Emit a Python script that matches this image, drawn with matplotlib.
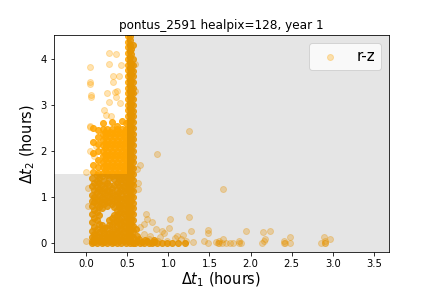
import numpy as np
import matplotlib
matplotlib.use("Agg")
import matplotlib.pyplot as plt
from matplotlib.patches import Rectangle

# ---------------- data ----------------
# dense core: columns of points (x position -> y values)
core_cols = {
    0.490: [0.0, 0.1, 0.22, 0.35, 0.47, 0.6, 0.72, 0.85, 0.97, 1.1, 1.22, 1.35, 1.47,
            1.6, 1.72, 1.85, 1.97, 2.1, 2.22, 2.35, 2.47, 2.6],
    0.510: [0.05, 0.16, 0.28, 0.4, 0.52, 0.64, 0.76, 0.88, 1.0, 1.14, 1.26, 1.38, 1.5,
            1.64, 1.76, 1.88, 2.0, 2.14, 2.26, 2.38, 2.5, 2.64, 2.76, 2.88, 3.0, 3.14,
            3.26, 3.38, 3.5, 3.64, 3.76, 3.88, 4.0, 4.14, 4.26, 4.38, 4.5],
    0.530: [0.0, 0.06, 0.18, 0.3, 0.43, 0.55, 0.68, 0.8, 0.93, 1.05, 1.18, 1.3, 1.43,
            1.55, 1.68, 1.8, 1.93, 2.05, 2.18, 2.3, 2.43, 2.55, 2.68, 2.8, 2.93, 3.05,
            3.18, 3.3, 3.43, 3.55, 3.68, 3.8, 3.93, 4.05, 4.18, 4.3, 4.42, 4.5],
    0.548: [0.03, 0.15, 0.27, 0.4, 0.52, 0.65, 0.78, 0.9, 1.02, 1.15, 1.27, 1.4, 1.52,
            1.65, 1.77, 1.9, 2.02, 2.15, 2.27, 2.4, 2.52, 2.65, 2.77, 2.9, 3.02, 3.15,
            3.27, 3.4, 3.52, 3.65, 3.77, 3.9, 4.1, 4.22],
    0.568: [0.0, 0.12, 0.25, 0.37, 0.5, 0.62, 0.75, 0.87, 1.0, 1.12, 1.25, 1.37, 1.5,
            1.62, 1.75, 1.87, 2.0, 2.12, 2.25, 2.37, 2.5, 2.62, 2.75, 2.87, 3.0, 3.12,
            3.25, 3.37, 3.5, 3.62, 3.75, 3.87, 4.0, 4.3],
    0.08: [1.55, 1.7, 1.95, 2.2, 2.5],
    0.14: [1.52, 1.65, 1.8, 2.0, 2.15, 2.3, 2.45],
    0.20: [1.52, 1.64, 1.76, 1.9, 2.0, 2.12, 2.24, 2.36, 2.48, 2.6],
    0.23: [1.58, 1.7, 1.82, 1.94, 2.06, 2.18, 2.3, 2.42],
    0.26: [1.52, 1.64, 1.76, 1.88, 2.0, 2.12, 2.24, 2.36, 2.48],
    0.29: [1.58, 1.7, 1.82, 1.94, 2.06, 2.18, 2.3, 2.42],
    0.32: [1.52, 1.64, 1.76, 1.88, 2.0, 2.12, 2.24, 2.36, 2.48, 2.62],
    0.35: [1.58, 1.7, 1.82, 1.94, 2.06, 2.18, 2.3, 2.42],
    0.38: [1.52, 1.64, 1.76, 1.88, 2.0, 2.12, 2.24, 2.36, 2.48, 2.55],
    0.41: [1.58, 1.7, 1.82, 1.94, 2.06, 2.18, 2.3, 2.42],
    0.44: [1.52, 1.64, 1.76, 1.88, 2.0, 2.12, 2.24, 2.36, 2.48, 2.65],
    0.47: [1.58, 1.7, 1.82, 1.94, 2.06, 2.18, 2.3, 2.42],
    0.07: [0.0, 0.04, 0.12, 0.25, 0.45, 0.62, 0.8, 0.9, 1.05, 1.24, 1.4],
    0.10: [0.02, 0.1, 0.2, 0.35, 0.55, 0.72, 0.88, 1.0, 1.15, 1.3],
    0.13: [0.0, 0.06, 0.18, 0.3, 0.5, 0.68, 0.82, 0.95, 1.1, 1.22, 1.35, 1.48],
    0.16: [0.03, 0.12, 0.24, 0.42, 0.6, 0.78, 0.9, 1.05, 1.18, 1.3, 1.42],
    0.19: [0.0, 0.05, 0.15, 0.27, 0.38, 0.75, 0.88, 1.0, 1.12, 1.25, 1.45],
    0.22: [0.02, 0.1, 0.22, 0.33, 0.85, 0.95, 1.08, 1.2, 1.35],
    0.25: [0.0, 0.08, 0.2, 0.32, 0.8, 0.92, 1.05, 1.15, 1.3, 1.48],
    0.28: [0.03, 0.12, 0.22, 0.38, 0.5, 0.88, 1.0, 1.12, 1.25, 1.4],
    0.31: [0.0, 0.05, 0.15, 0.25, 0.42, 0.55, 0.85, 0.98, 1.1, 1.2, 1.45],
    0.34: [0.02, 0.1, 0.2, 0.3, 0.45, 0.6, 0.78, 0.92, 1.05, 1.25, 1.38],
    0.37: [0.0, 0.1, 0.22, 0.35, 0.48, 0.6, 0.72, 0.9, 1.02, 1.15, 1.3, 1.45],
    0.40: [0.04, 0.15, 0.27, 0.4, 0.52, 0.65, 0.78, 0.85, 0.98, 1.1, 1.24, 1.36, 1.48],
    0.43: [0.0, 0.06, 0.18, 0.3, 0.42, 0.55, 0.68, 0.8, 0.92, 1.05, 1.18, 1.3, 1.42],
    0.46: [0.03, 0.12, 0.24, 0.36, 0.48, 0.62, 0.74, 0.86, 0.98, 1.12, 1.24, 1.36, 1.48],
}
bottom_core_x = [0.60, 0.62, 0.65, 0.68, 0.71, 0.74, 0.77, 0.80, 0.83, 0.86, 0.92,
                 0.98, 1.05, 1.12, 1.20, 0.64, 0.72, 0.82, 0.62, 0.61]
bottom_core_y = [0.0, 0.04, 0.0, 0.02, 0.0, 0.03, 0.0, 0.0, 0.02, 0.0, 0.0,
                 0.0, 0.0, 0.0, 0.0, 0.08, 0.07, 0.06, 0.15, 0.3]

# sparse points
sparse_x = [0.28, 0.36, 0.05, 0.05, 0.05, 0.06, 0.06, 0.28, 0.43, 0.33, 0.40, 0.33, 0.38,
            0.26, 0.35, 0.36, 0.28, 0.41, 0.22, 0.24, 0.05, 0.05, 0.30, 0.0, 0.02, 0.02,
            0.0, 0.05, 0.10, 0.12, 0.16,
            1.25, 0.86, 0.65, 0.62, 0.60, 0.60, 0.63, 0.63, 1.67, 0.73, 0.74, 1.02, 1.25,
            1.48, 1.48, 1.28, 1.01, 0.85, 0.66, 0.70, 0.78, 0.90, 0.95, 1.08, 1.15, 1.18,
            0.88, 0.76, 0.98, 1.22, 1.30, 1.10, 0.92, 0.70, 0.80,
            1.43, 1.48, 1.58, 1.60, 1.62, 1.62, 1.65, 1.66, 1.70, 1.75, 1.79, 1.86, 1.86,
            1.88, 1.95, 2.14, 2.15, 2.16, 2.18, 2.24, 2.40, 2.40, 2.42, 2.48, 2.48,
            2.85, 2.89, 2.90, 2.90, 2.96, 2.90]
sparse_y = [4.14, 4.12, 3.82, 3.50, 3.46, 3.22, 3.18, 3.90, 3.87, 3.62, 3.62, 3.50, 3.30,
            3.27, 3.28, 3.17, 3.07, 3.04, 2.89, 2.78, 2.52, 2.55, 2.75, 0.05, 0.80, 1.20,
            1.55, 2.00, 1.90, 2.10, 1.75,
            2.43, 1.93, 1.70, 1.60, 3.90, 3.30, 1.31, 1.17, 1.17, 0.63, 0.52, 0.52, 0.57,
            0.28, 0.22, 0.25, 0.32, 0.30, 0.35, 0.20, 0.15, 0.12, 0.22, 0.10, 0.08, 0.18,
            0.05, 0.08, 0.03, 0.05, 0.02, 0.15, 0.25, 0.40, 0.45,
            0.04, 0.0, 0.02, 0.0, 0.03, 0.0, 0.0, 0.08, 0.0, 0.0, 0.0, 0.03, 0.0,
            0.0, 0.25, 0.0, 0.23, 0.05, 0.08, 0.26, 0.0, 0.04, 0.0, 0.12, 0.0,
            0.0, 0.12, 0.0, 0.05, 0.08, 0.0]

title = "pontus_2591 healpix=128, year 1"
label = "r-z"

# ---------------- plot ----------------
fig = plt.figure(figsize=(6, 4), dpi=72)
ax = fig.add_axes([0.125, 0.125, 0.775, 0.753])

core_x = np.concatenate([np.full(len(v), k) for k, v in core_cols.items()] + [bottom_core_x])
core_y = np.concatenate([np.array(v) for v in core_cols.values()] + [bottom_core_y])

ax.scatter(core_x, core_y, s=36, color="orange", alpha=0.85, zorder=2)
ax.scatter(sparse_x, sparse_y, s=36, color="orange", alpha=0.3, zorder=2, label=label)

xlim = (-0.39, 3.68)
ylim = (-0.2, 4.52)
ax.set_xlim(*xlim)
ax.set_ylim(*ylim)

# shaded region (everything except x<0.5 & y>1.5)
ax.add_patch(Rectangle((0.5, ylim[0]), xlim[1] - 0.5, ylim[1] - ylim[0],
                       facecolor="k", alpha=0.1, edgecolor="none", zorder=3))
ax.add_patch(Rectangle((xlim[0], ylim[0]), 0.5 - xlim[0], 1.5 - ylim[0],
                       facecolor="k", alpha=0.1, edgecolor="none", zorder=3))

ax.set_xticks([0.0, 0.5, 1.0, 1.5, 2.0, 2.5, 3.0, 3.5])
ax.set_yticks([0, 1, 2, 3, 4])
ax.set_xlabel(r"$\Delta t_1$ (hours)", fontsize=14.5, labelpad=1.5)
ax.set_ylabel(r"$\Delta t_2$ (hours)", fontsize=14.5)
ax.set_title(title, fontsize=12)
ax.legend(loc="upper right", fontsize=15)

fig.savefig("out.png", dpi=72)
